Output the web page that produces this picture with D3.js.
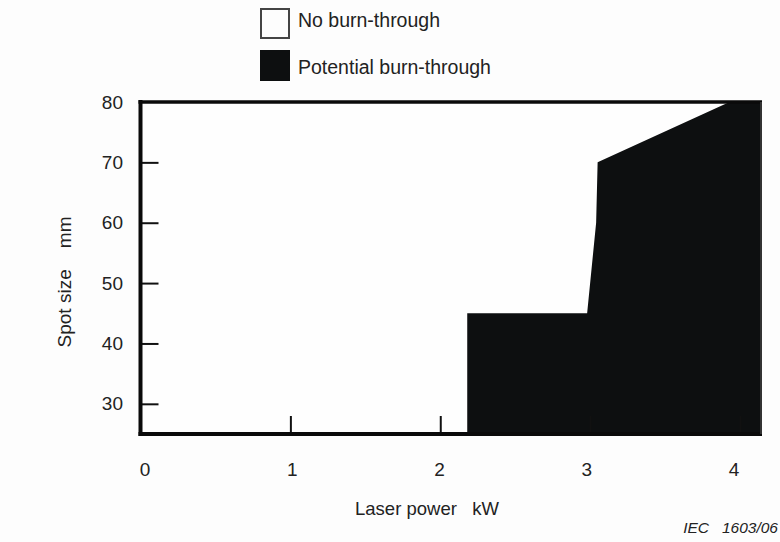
<!DOCTYPE html>
<html>
<head>
<meta charset="utf-8">
<script src="https://cdn.jsdelivr.net/npm/d3@7"></script>
<style>
  html, body { margin: 0; padding: 0; background: #fdfdfd; }
  svg { display: block; font-family: "Liberation Sans", Arial, sans-serif; }
</style>
</head>
<body>
<svg id="chart" width="780" height="542"></svg>
<script>
// ---- data ----
const xTickValues = [0, 1, 2, 3, 4];
const yTickValues = [30, 40, 50, 60, 70, 80];
const xDomain = [0, 4.14];
const yDomain = [25, 80];
// boundary between "no burn-through" (left/top) and "potential burn-through" (right/bottom)
const boundaryPower = [2.18, 2.18, 2.98, 3.04, 3.05, 3.93];
const boundarySpot  = [25,   45,   45,   60,   70,   80];
const legendLabels = ["No burn-through", "Potential burn-through"];
const legendFills = ["#fdfdfd", "#0d0f10"];
const xTitle = "Laser power   kW";
const yTitle = "Spot size    mm";
const footnote = "IEC   1603/06";

const svg = d3.select("#chart");
const ink = "#222";

const x = d3.scaleLinear().domain(xDomain).range([140.5, 761]);
const y = d3.scaleLinear().domain(yDomain).range([434, 102]);
// tick labels are laid slightly apart from the tick marks in the original
const xLabel = d3.scaleLinear().domain([0, 4]).range([145, 734]);

// plot background
svg.append("rect")
  .attr("x", x(xDomain[0])).attr("y", y(yDomain[1]))
  .attr("width", x(xDomain[1]) - x(xDomain[0]))
  .attr("height", y(yDomain[0]) - y(yDomain[1]))
  .attr("fill", "#fefefe");

// potential burn-through region
const boundary = boundaryPower.map((p, i) => ({ p, s: boundarySpot[i] }));
const area = d3.area()
  .y(d => y(d.s))
  .x0(d => x(d.p))
  .x1(() => x(xDomain[1]));
svg.append("path")
  .datum(boundary)
  .attr("d", area)
  .attr("fill", "#0d0f10");

// y ticks (inward)
const yAxis = d3.axisRight(y).tickValues(yTickValues.filter(v => v < 80)).tickSize(18).tickFormat("");
svg.append("g")
  .attr("transform", `translate(${x(0)},0)`)
  .call(yAxis)
  .call(g => g.select(".domain").remove())
  .call(g => g.selectAll("line").attr("stroke", "#111").attr("stroke-width", 2));

// x ticks (inward)
const xAxis = d3.axisTop(x).tickValues(xTickValues.filter(v => v > 0)).tickSize(18).tickFormat("");
svg.append("g")
  .attr("transform", `translate(0,${y(yDomain[0])})`)
  .call(xAxis)
  .call(g => g.select(".domain").remove())
  .call(g => g.selectAll("line").attr("stroke", "#111").attr("stroke-width", 2));

// frame
const fx0 = x(xDomain[0]), fx1 = x(xDomain[1]), fy0 = y(yDomain[1]), fy1 = y(yDomain[0]);
svg.append("line").attr("x1", fx0).attr("x2", fx0).attr("y1", fy0 - 2).attr("y2", fy1 + 2)
  .attr("stroke", "#0a0a0a").attr("stroke-width", 4);
svg.append("line").attr("x1", fx0 - 2).attr("x2", fx1 + 1).attr("y1", fy1).attr("y2", fy1)
  .attr("stroke", "#0a0a0a").attr("stroke-width", 4);
svg.append("line").attr("x1", fx0 - 2).attr("x2", fx1 + 1).attr("y1", fy0).attr("y2", fy0)
  .attr("stroke", "#0a0a0a").attr("stroke-width", 3.5);
svg.append("line").attr("x1", fx1).attr("x2", fx1).attr("y1", fy0).attr("y2", fy1)
  .attr("stroke", "#333").attr("stroke-width", 2);

// y tick labels
svg.append("g").selectAll("text")
  .data(yTickValues).join("text")
  .attr("x", 123).attr("y", d => y(d))
  .attr("dy", "0.35em")
  .attr("text-anchor", "end")
  .attr("font-size", 19).attr("fill", ink)
  .text(d => d);

// x tick labels
svg.append("g").selectAll("text")
  .data(xTickValues).join("text")
  .attr("x", d => xLabel(d)).attr("y", 476)
  .attr("text-anchor", "middle")
  .attr("font-size", 19).attr("fill", ink)
  .text(d => d);

// axis titles
svg.append("text")
  .attr("x", 427).attr("y", 515)
  .attr("text-anchor", "middle")
  .attr("font-size", 18.5).attr("fill", ink)
  .style("white-space", "pre")
  .text(xTitle);

svg.append("text")
  .attr("transform", "translate(71,282) rotate(-90)")
  .attr("text-anchor", "middle")
  .attr("font-size", 19).attr("fill", ink)
  .style("white-space", "pre")
  .text(yTitle);

// footnote
svg.append("text")
  .attr("x", 778).attr("y", 533)
  .attr("text-anchor", "end")
  .attr("font-size", 15.5).attr("font-style", "italic").attr("fill", ink)
  .style("white-space", "pre")
  .text(footnote);

// legend
const legend = svg.append("g").selectAll("g")
  .data(legendLabels).join("g")
  .attr("transform", (d, i) => `translate(261,${9 + i * 42})`);
legend.append("rect")
  .attr("x", 0).attr("y", 0).attr("width", 28).attr("height", 29)
  .attr("fill", (d, i) => legendFills[i])
  .attr("stroke", (d, i) => i === 0 ? "#444" : "#0d0f10")
  .attr("stroke-width", 2);
legend.append("text")
  .attr("x", 37).attr("y", (d, i) => i === 0 ? 18 : 23)
  .attr("font-size", 19.5).attr("fill", ink)
  .text(d => d);
</script>
</body>
</html>
